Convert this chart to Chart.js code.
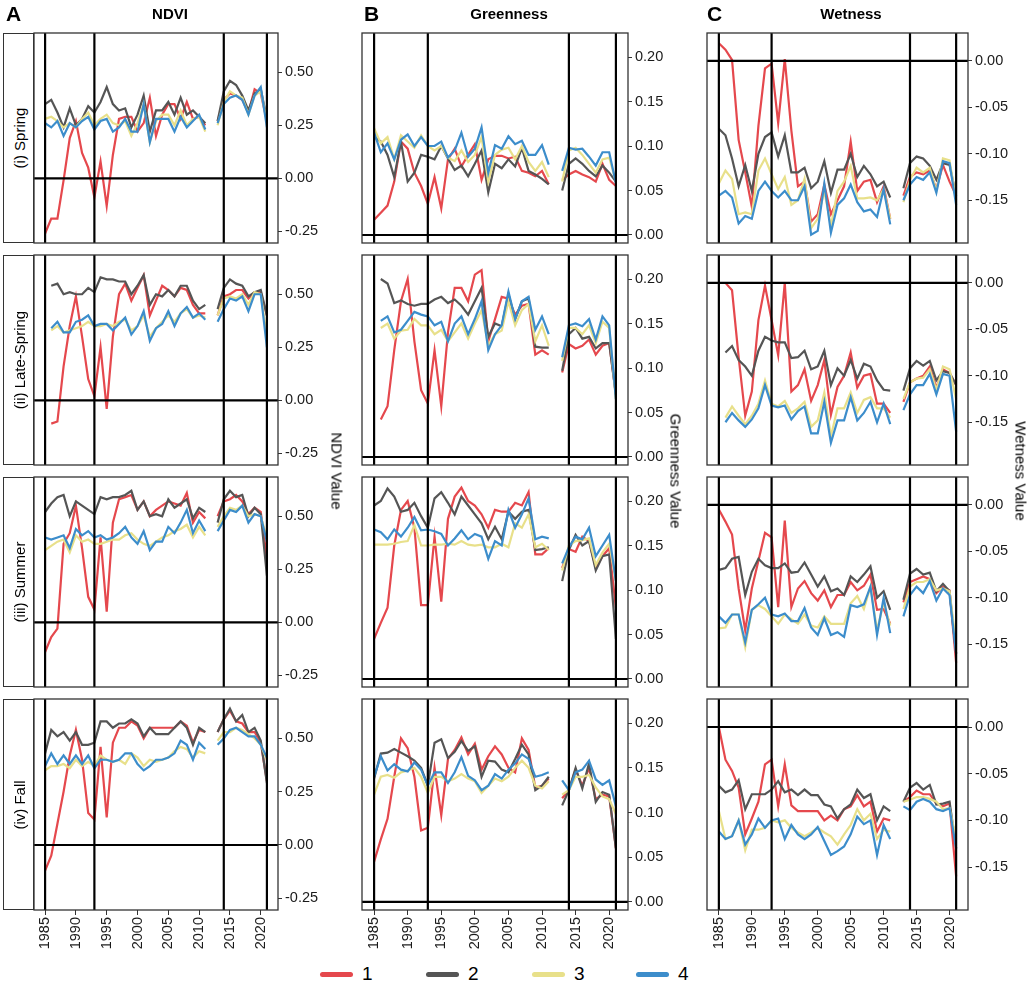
<!DOCTYPE html>
<html>
<head>
<meta charset="utf-8">
<script src="https://cdn.jsdelivr.net/npm/chart.js@4.4.0/dist/chart.umd.min.js"></script>
<style>
  body { margin: 0; background: #fff; font-family: "Liberation Sans", Arial, sans-serif; color: #000; }
  #fig { position: relative; width: 1031px; height: 992px; overflow: hidden; }
  #fig canvas { position: absolute; }
  .strip { position: absolute; border: 1.3px solid #333; box-sizing: border-box; }
  .strip span { position: absolute; left: 50%; top: 50%; transform: translate(-50%, -50%) rotate(-90deg); white-space: nowrap; font-size: 15px; }
  .panel-tag { position: absolute; font-weight: bold; font-size: 21px; }
  .col-title { position: absolute; font-weight: bold; font-size: 15px; transform: translateX(-50%); white-space: nowrap; }
  .axis-title { position: absolute; font-size: 15px; white-space: nowrap; transform: translate(-50%, -50%) rotate(90deg); }
  .legend-line { position: absolute; height: 5px; border-radius: 3px; }
  .legend-text { position: absolute; font-size: 19px; }
</style>
</head>
<body>
<div id="fig"></div>
<script>
// years on the x axis (2012 has no data)
const years = [1985, 1986, 1987, 1988, 1989, 1990, 1991, 1992, 1993, 1994, 1995, 1996, 1997,
  1998, 1999, 2000, 2001, 2002, 2003, 2004, 2005, 2006, 2007, 2008, 2009, 2010, 2011, 2012,
  2013, 2014, 2015, 2016, 2017, 2018, 2019, 2020, 2021];
const xTicks = [1985, 1990, 1995, 2000, 2005, 2010, 2015, 2020];
const eventYears = [1985, 1993, 2014, 2021];

const groupNames = ['1', '2', '3', '4'];
const groupColors = ['#E5484D', '#555555', '#E8E08A', '#3C8DCB'];

const rowNames = ['(i) Spring', '(ii) Late-Spring', '(iii) Summer', '(iv) Fall'];
const indexNames = ['NDVI', 'Greenness', 'Wetness'];
const indexTags = ['A', 'B', 'C'];
const axisTitles = ['NDVI Value', 'Greenness Value', 'Wetness Value'];

const ndviTicks = [-0.25, 0, 0.25, 0.5];
const greennessTicks = [0, 0.05, 0.1, 0.15, 0.2];
const wetnessTicks = [-0.15, -0.1, -0.05, 0];

// each panel: [group 1, group 2, group 3, group 4]
const ndviSpring = [
  [-0.26,-0.19,-0.19,-0.01,0.19,0.27,0.12,0.05,-0.09,0.08,-0.13,0.11,0.28,0.29,0.29,0.22,0.26,0.38,0.20,0.30,0.35,0.35,0.28,0.36,0.28,0.29,0.25,null,0.27,0.37,0.40,0.39,0.37,0.31,0.42,0.40,0.27],
  [0.35,0.37,0.31,0.24,0.33,0.25,0.28,0.34,0.31,0.36,0.43,0.35,0.32,0.33,0.24,0.30,0.39,0.22,0.32,0.32,0.36,0.30,0.38,0.30,0.32,0.29,0.26,null,0.27,0.41,0.46,0.44,0.39,0.32,0.40,0.42,0.28],
  [0.28,0.29,0.27,0.24,0.26,0.24,0.28,0.31,0.25,0.28,0.30,0.26,0.25,0.27,0.20,0.26,0.35,0.17,0.27,0.30,0.30,0.25,0.32,0.25,0.28,0.29,0.22,null,0.25,0.36,0.41,0.39,0.38,0.30,0.39,0.41,0.27],
  [0.26,0.24,0.27,0.20,0.26,0.24,0.27,0.29,0.23,0.27,0.28,0.22,0.24,0.28,0.22,0.22,0.35,0.17,0.28,0.28,0.28,0.22,0.29,0.24,0.27,0.30,0.23,null,0.26,0.35,0.38,0.39,0.37,0.30,0.39,0.43,0.24]
];
const ndviLateSpring = [
  [null,-0.11,-0.10,0.16,0.35,0.49,0.30,0.10,0.02,0.25,-0.04,0.30,0.50,0.55,0.47,0.53,0.59,0.40,0.47,0.54,0.52,0.49,0.53,0.52,0.45,0.41,0.41,null,0.40,0.49,0.50,0.52,0.52,0.48,0.51,0.51,0.40],
  [null,0.54,0.55,0.50,0.51,0.50,0.50,0.53,0.51,0.58,0.57,0.57,0.56,0.56,0.50,0.54,0.59,0.45,0.50,0.49,0.52,0.49,0.54,0.54,0.47,0.43,0.45,null,0.43,0.53,0.57,0.55,0.54,0.49,0.51,0.52,0.40],
  [null,0.33,0.35,0.32,0.33,0.34,0.35,0.37,0.35,0.35,0.36,0.35,0.37,0.38,0.33,0.35,0.40,0.30,0.34,0.37,0.40,0.37,0.41,0.43,0.39,0.40,0.39,null,0.40,0.48,0.49,0.48,0.50,0.45,0.51,0.50,0.30],
  [null,0.34,0.37,0.32,0.32,0.37,0.38,0.40,0.35,0.36,0.36,0.33,0.36,0.39,0.31,0.35,0.42,0.28,0.34,0.36,0.42,0.35,0.41,0.44,0.39,0.41,0.38,null,0.37,0.43,0.48,0.47,0.49,0.42,0.50,0.50,0.25]
];
const ndviSummer = [
  [-0.14,-0.07,-0.03,0.37,0.42,0.55,0.35,0.12,0.06,0.40,0.05,0.47,0.58,0.59,0.60,0.53,0.57,0.50,0.53,0.55,0.57,0.56,0.55,0.61,0.47,0.52,0.49,null,0.50,0.57,0.58,0.60,0.57,0.51,0.54,0.52,0.30],
  [0.52,0.56,0.59,0.60,0.50,0.57,0.55,0.53,0.51,0.59,0.58,0.59,0.59,0.60,0.62,0.53,0.57,0.50,0.51,0.50,0.58,0.54,0.56,0.58,0.49,0.54,0.52,null,0.47,0.58,0.62,0.59,0.60,0.50,0.54,0.51,0.22],
  [0.34,0.36,0.38,0.39,0.33,0.41,0.38,0.39,0.37,0.37,0.38,0.39,0.39,0.41,0.42,0.39,0.37,0.36,0.38,0.40,0.41,0.43,0.44,0.46,0.40,0.45,0.41,null,0.45,0.50,0.54,0.53,0.55,0.50,0.51,0.50,0.40],
  [0.40,0.39,0.40,0.41,0.35,0.44,0.41,0.43,0.40,0.41,0.39,0.40,0.42,0.45,0.40,0.37,0.43,0.34,0.38,0.38,0.45,0.42,0.47,0.53,0.42,0.48,0.43,null,0.43,0.48,0.53,0.52,0.55,0.47,0.51,0.50,0.38]
];
const ndviFall = [
  [-0.12,-0.05,0.10,0.25,0.42,0.54,0.40,0.15,0.12,0.46,0.13,0.48,0.55,0.55,0.58,0.56,0.50,0.55,0.55,0.55,0.55,0.55,0.58,0.56,0.48,0.54,0.53,null,0.53,0.59,0.63,0.58,0.57,0.53,0.53,0.48,0.30],
  [0.43,0.54,0.51,0.53,0.49,0.53,0.47,0.47,0.48,0.58,0.58,0.55,0.57,0.57,0.59,0.57,0.51,0.55,0.52,0.52,0.52,0.55,0.58,0.55,0.47,0.55,0.53,null,0.53,0.59,0.64,0.58,0.61,0.53,0.55,0.49,0.29],
  [0.35,0.37,0.37,0.38,0.36,0.40,0.37,0.39,0.37,0.42,0.40,0.39,0.40,0.38,0.43,0.41,0.37,0.40,0.39,0.40,0.41,0.44,0.46,0.45,0.41,0.44,0.43,null,0.49,0.53,0.53,0.55,0.54,0.52,0.50,0.47,0.40],
  [0.37,0.43,0.38,0.42,0.38,0.42,0.38,0.42,0.36,0.40,0.40,0.39,0.40,0.43,0.43,0.38,0.35,0.37,0.40,0.40,0.41,0.43,0.49,0.47,0.40,0.48,0.45,null,0.47,0.50,0.54,0.55,0.53,0.51,0.51,0.47,0.41]
];

const greenSpring = [
  [0.017,0.025,0.033,0.06,0.105,0.097,0.07,0.055,0.035,0.065,0.03,0.085,0.097,0.077,0.09,0.102,0.062,0.085,0.089,0.089,0.086,0.088,0.072,0.07,0.066,0.072,0.057,null,0.062,0.068,0.072,0.068,0.065,0.06,0.08,0.062,0.055],
  [0.11,0.105,0.09,0.065,0.105,0.06,0.07,0.09,0.088,0.085,0.10,0.086,0.073,0.078,0.066,0.08,0.095,0.048,0.08,0.075,0.085,0.077,0.098,0.072,0.068,0.063,0.057,null,0.05,0.08,0.086,0.08,0.072,0.066,0.078,0.07,0.06],
  [0.12,0.103,0.11,0.085,0.112,0.105,0.098,0.112,0.10,0.095,0.10,0.087,0.083,0.095,0.082,0.09,0.11,0.06,0.09,0.096,0.098,0.085,0.10,0.082,0.072,0.082,0.065,null,0.06,0.095,0.098,0.09,0.08,0.07,0.085,0.087,0.06],
  [0.115,0.093,0.103,0.085,0.107,0.113,0.10,0.11,0.10,0.10,0.105,0.087,0.095,0.115,0.088,0.097,0.121,0.07,0.101,0.097,0.111,0.102,0.106,0.09,0.09,0.101,0.079,null,0.072,0.098,0.096,0.097,0.088,0.078,0.093,0.093,0.058]
];
const greenLateSpring = [
  [null,0.042,0.057,0.12,0.175,0.20,0.13,0.075,0.06,0.12,0.057,0.14,0.19,0.19,0.175,0.205,0.21,0.13,0.155,0.18,0.178,0.16,0.17,0.172,0.115,0.12,0.115,null,0.095,0.127,0.122,0.125,0.132,0.115,0.125,0.128,0.07],
  [null,0.20,0.195,0.173,0.176,0.172,0.17,0.172,0.172,0.177,0.18,0.173,0.177,0.17,0.16,0.175,0.19,0.135,0.15,0.147,0.183,0.155,0.175,0.178,0.124,0.123,0.123,null,0.097,0.138,0.145,0.133,0.135,0.122,0.128,0.128,0.07],
  [null,0.145,0.15,0.133,0.142,0.143,0.155,0.148,0.148,0.138,0.143,0.13,0.14,0.15,0.133,0.15,0.165,0.125,0.138,0.142,0.175,0.148,0.165,0.172,0.13,0.148,0.125,null,0.108,0.145,0.145,0.138,0.148,0.128,0.152,0.145,0.065],
  [null,0.153,0.158,0.14,0.143,0.153,0.163,0.16,0.158,0.148,0.152,0.13,0.15,0.158,0.138,0.155,0.175,0.12,0.138,0.148,0.186,0.155,0.175,0.18,0.143,0.158,0.138,null,0.112,0.148,0.15,0.147,0.155,0.132,0.158,0.148,0.065]
];
const greenSummer = [
  [0.045,0.063,0.08,0.15,0.19,0.20,0.17,0.083,0.083,0.16,0.087,0.18,0.205,0.215,0.20,0.195,0.185,0.17,0.19,0.188,0.188,0.198,0.195,0.21,0.14,0.14,0.147,null,0.125,0.146,0.143,0.16,0.155,0.125,0.138,0.147,0.08],
  [0.195,0.20,0.214,0.205,0.188,0.19,0.198,0.183,0.17,0.203,0.21,0.198,0.185,0.205,0.195,0.185,0.175,0.157,0.171,0.157,0.188,0.18,0.188,0.19,0.145,0.146,0.148,null,0.11,0.145,0.162,0.15,0.155,0.122,0.138,0.14,0.045],
  [0.151,0.151,0.151,0.152,0.154,0.155,0.173,0.15,0.15,0.151,0.151,0.152,0.151,0.155,0.151,0.15,0.151,0.148,0.148,0.152,0.148,0.175,0.17,0.185,0.148,0.152,0.145,null,0.122,0.15,0.155,0.156,0.158,0.128,0.142,0.152,0.11],
  [0.168,0.165,0.157,0.168,0.16,0.17,0.182,0.167,0.168,0.166,0.163,0.15,0.158,0.167,0.157,0.163,0.16,0.135,0.155,0.15,0.19,0.17,0.185,0.203,0.157,0.16,0.158,null,0.13,0.148,0.16,0.157,0.17,0.138,0.15,0.162,0.11]
];
const greenFall = [
  [0.045,0.07,0.093,0.14,0.183,0.172,0.14,0.08,0.083,0.15,0.097,0.16,0.17,0.184,0.165,0.177,0.148,0.163,0.174,0.165,0.15,0.145,0.183,0.17,0.128,0.13,0.138,null,0.116,0.125,0.148,0.13,0.15,0.115,0.12,0.118,0.06],
  [0.138,0.166,0.167,0.171,0.167,0.163,0.158,0.15,0.13,0.178,0.182,0.161,0.168,0.18,0.169,0.174,0.14,0.158,0.157,0.148,0.145,0.16,0.176,0.165,0.125,0.13,0.14,null,0.108,0.125,0.15,0.127,0.155,0.112,0.123,0.12,0.06],
  [0.12,0.14,0.142,0.139,0.145,0.147,0.15,0.14,0.122,0.14,0.14,0.135,0.138,0.143,0.138,0.135,0.122,0.13,0.138,0.135,0.14,0.15,0.158,0.15,0.13,0.127,0.135,null,0.12,0.125,0.14,0.14,0.142,0.128,0.118,0.115,0.098],
  [0.14,0.163,0.147,0.154,0.148,0.146,0.156,0.148,0.13,0.145,0.145,0.133,0.145,0.162,0.141,0.136,0.125,0.13,0.143,0.138,0.148,0.155,0.165,0.16,0.14,0.142,0.145,null,0.136,0.125,0.145,0.148,0.158,0.137,0.131,0.136,0.107]
];

const wetSpring = [
  [0.019,0.012,0.001,-0.085,-0.12,-0.157,-0.07,-0.008,-0.003,-0.067,0.002,-0.075,-0.135,-0.13,-0.173,-0.165,-0.133,-0.165,-0.15,-0.135,-0.087,-0.14,-0.13,-0.128,-0.152,-0.135,-0.17,null,-0.145,-0.125,-0.12,-0.122,-0.118,-0.138,-0.112,-0.13,-0.145],
  [-0.073,-0.08,-0.105,-0.135,-0.112,-0.14,-0.1,-0.082,-0.077,-0.103,-0.08,-0.12,-0.12,-0.115,-0.137,-0.13,-0.108,-0.142,-0.117,-0.117,-0.1,-0.125,-0.113,-0.122,-0.135,-0.13,-0.147,null,-0.137,-0.11,-0.103,-0.105,-0.113,-0.128,-0.11,-0.112,-0.145],
  [-0.132,-0.118,-0.127,-0.165,-0.163,-0.165,-0.118,-0.105,-0.122,-0.138,-0.125,-0.155,-0.15,-0.127,-0.18,-0.17,-0.14,-0.178,-0.14,-0.13,-0.113,-0.148,-0.148,-0.147,-0.15,-0.138,-0.17,null,-0.152,-0.128,-0.115,-0.12,-0.115,-0.14,-0.105,-0.107,-0.15],
  [-0.145,-0.14,-0.147,-0.175,-0.167,-0.17,-0.14,-0.13,-0.14,-0.147,-0.14,-0.15,-0.15,-0.135,-0.187,-0.183,-0.132,-0.185,-0.155,-0.148,-0.133,-0.152,-0.162,-0.16,-0.168,-0.138,-0.176,null,-0.15,-0.133,-0.125,-0.128,-0.12,-0.142,-0.108,-0.11,-0.155]
];
const wetLateSpring = [
  [null,0.0,-0.008,-0.08,-0.143,-0.117,-0.04,-0.003,-0.04,-0.078,0.0,-0.117,-0.11,-0.093,-0.127,-0.11,-0.083,-0.142,-0.112,-0.1,-0.075,-0.113,-0.1,-0.098,-0.13,-0.13,-0.14,null,-0.128,-0.107,-0.103,-0.1,-0.09,-0.113,-0.093,-0.097,-0.11],
  [null,-0.075,-0.068,-0.083,-0.09,-0.1,-0.073,-0.058,-0.062,-0.064,-0.064,-0.081,-0.08,-0.073,-0.093,-0.09,-0.073,-0.11,-0.092,-0.1,-0.083,-0.103,-0.087,-0.09,-0.105,-0.115,-0.116,null,-0.116,-0.092,-0.084,-0.089,-0.084,-0.105,-0.095,-0.097,-0.11],
  [null,-0.145,-0.133,-0.143,-0.152,-0.143,-0.13,-0.105,-0.13,-0.133,-0.127,-0.14,-0.135,-0.128,-0.155,-0.148,-0.118,-0.165,-0.135,-0.135,-0.118,-0.14,-0.126,-0.123,-0.135,-0.135,-0.145,null,-0.125,-0.107,-0.103,-0.102,-0.093,-0.115,-0.09,-0.093,-0.125],
  [null,-0.15,-0.14,-0.148,-0.155,-0.147,-0.135,-0.11,-0.132,-0.134,-0.132,-0.147,-0.138,-0.133,-0.162,-0.162,-0.128,-0.172,-0.148,-0.148,-0.123,-0.148,-0.14,-0.128,-0.15,-0.13,-0.152,null,-0.137,-0.12,-0.11,-0.11,-0.098,-0.12,-0.098,-0.1,-0.16]
];
const wetSummer = [
  [-0.005,-0.018,-0.032,-0.09,-0.135,-0.09,-0.06,-0.03,-0.035,-0.11,-0.017,-0.11,-0.09,-0.082,-0.095,-0.103,-0.092,-0.11,-0.097,-0.097,-0.083,-0.092,-0.087,-0.075,-0.113,-0.112,-0.128,null,-0.105,-0.083,-0.08,-0.077,-0.08,-0.095,-0.088,-0.092,-0.17],
  [-0.07,-0.068,-0.058,-0.056,-0.097,-0.072,-0.058,-0.065,-0.068,-0.068,-0.063,-0.073,-0.072,-0.062,-0.075,-0.088,-0.077,-0.093,-0.09,-0.097,-0.077,-0.083,-0.075,-0.066,-0.1,-0.093,-0.113,null,-0.102,-0.074,-0.069,-0.075,-0.073,-0.093,-0.085,-0.093,-0.16],
  [-0.133,-0.132,-0.118,-0.118,-0.153,-0.113,-0.108,-0.112,-0.12,-0.128,-0.118,-0.123,-0.128,-0.118,-0.13,-0.132,-0.12,-0.128,-0.128,-0.128,-0.106,-0.098,-0.112,-0.088,-0.135,-0.105,-0.13,null,-0.112,-0.088,-0.083,-0.083,-0.08,-0.092,-0.09,-0.093,-0.15],
  [-0.12,-0.127,-0.118,-0.118,-0.148,-0.113,-0.107,-0.1,-0.118,-0.12,-0.117,-0.125,-0.125,-0.111,-0.132,-0.14,-0.122,-0.14,-0.137,-0.142,-0.108,-0.11,-0.107,-0.088,-0.14,-0.1,-0.138,null,-0.12,-0.097,-0.088,-0.095,-0.082,-0.103,-0.09,-0.097,-0.16]
];
const wetFall = [
  [0.0,-0.035,-0.047,-0.065,-0.115,-0.098,-0.08,-0.04,-0.035,-0.085,-0.04,-0.084,-0.09,-0.09,-0.09,-0.09,-0.1,-0.095,-0.1,-0.088,-0.085,-0.073,-0.085,-0.08,-0.112,-0.098,-0.1,null,-0.08,-0.075,-0.068,-0.072,-0.072,-0.082,-0.085,-0.082,-0.16],
  [-0.063,-0.07,-0.067,-0.057,-0.088,-0.072,-0.072,-0.072,-0.067,-0.058,-0.07,-0.067,-0.073,-0.067,-0.073,-0.073,-0.083,-0.085,-0.098,-0.088,-0.083,-0.067,-0.076,-0.072,-0.1,-0.085,-0.09,null,-0.08,-0.065,-0.06,-0.067,-0.062,-0.083,-0.082,-0.08,-0.13],
  [-0.09,-0.12,-0.117,-0.1,-0.132,-0.11,-0.11,-0.108,-0.1,-0.102,-0.1,-0.108,-0.113,-0.117,-0.113,-0.108,-0.113,-0.117,-0.126,-0.115,-0.105,-0.088,-0.1,-0.093,-0.12,-0.11,-0.112,null,-0.08,-0.078,-0.075,-0.075,-0.077,-0.08,-0.088,-0.087,-0.12],
  [-0.112,-0.12,-0.117,-0.1,-0.126,-0.115,-0.098,-0.108,-0.1,-0.098,-0.12,-0.105,-0.115,-0.12,-0.115,-0.107,-0.122,-0.137,-0.133,-0.128,-0.115,-0.096,-0.104,-0.1,-0.137,-0.105,-0.12,null,-0.085,-0.089,-0.08,-0.077,-0.08,-0.088,-0.09,-0.087,-0.13]
];

const panelRows = [
  [ndviSpring, greenSpring, wetSpring],
  [ndviLateSpring, greenLateSpring, wetLateSpring],
  [ndviSummer, greenSummer, wetSummer],
  [ndviFall, greenFall, wetFall]
];
const colTicks = [ndviTicks, greennessTicks, wetnessTicks];

// layout (pixels)
const colLeft = [34, 362, 707];
const colRight = [278, 628, 968];
const colMin = [-0.305, -0.009, -0.196];
const colMax = [0.685, 0.227, 0.030];
const rowTop = [33, 255, 477, 699];
const rowHeight = [210, 210, 210, 211];
const MARGIN = 14;
const Y_AXIS_W = 50;
const X_AXIS_H = 50;

Chart.defaults.font.family = '"Liberation Sans", Arial, sans-serif';
Chart.defaults.font.size = 14.5;
Chart.defaults.color = '#1a1a1a';

const fig = document.getElementById('fig');

const panelLines = {
    id: 'panelLines',
    afterDatasetsDraw(chart) {
        const ctx = chart.ctx;
        const a = chart.chartArea;
        const x = chart.scales.x;
        const y = chart.scales.y;
        ctx.save();
        ctx.beginPath();
        ctx.rect(a.left, a.top, a.right - a.left, a.bottom - a.top);
        ctx.clip();
        ctx.strokeStyle = '#000';
        ctx.lineWidth = 2.2;
        eventYears.forEach(function (yr) {
            const px = x.getPixelForValue(yr);
            ctx.beginPath();
            ctx.moveTo(px, a.top);
            ctx.lineTo(px, a.bottom);
            ctx.stroke();
        });
        const py = y.getPixelForValue(0);
        ctx.beginPath();
        ctx.moveTo(a.left, py);
        ctx.lineTo(a.right, py);
        ctx.stroke();
        ctx.restore();
        ctx.save();
        ctx.strokeStyle = '#333';
        ctx.lineWidth = 1.3;
        ctx.strokeRect(a.left, a.top, a.right - a.left, a.bottom - a.top);
        ctx.restore();
    }
};

function makePanel(r, c) {
    const bottomRow = r === rowTop.length - 1;
    const plotW = colRight[c] - colLeft[c];
    const plotH = rowHeight[r];
    const w = MARGIN + plotW + Y_AXIS_W;
    const h = MARGIN + plotH + (bottomRow ? X_AXIS_H : MARGIN);

    const canvas = document.createElement('canvas');
    canvas.width = w;
    canvas.height = h;
    canvas.style.width = w + 'px';
    canvas.style.height = h + 'px';
    canvas.style.left = (colLeft[c] - MARGIN) + 'px';
    canvas.style.top = (rowTop[r] - MARGIN) + 'px';
    fig.appendChild(canvas);

    const series = panelRows[r][c];
    const datasets = series.map(function (vals, g) {
        return {
            label: groupNames[g],
            data: years.map(function (yr, i) { return { x: yr, y: vals[i] }; }),
            borderColor: groupColors[g],
            borderWidth: 2.2,
            pointRadius: 0,
            tension: 0,
            spanGaps: false,
            order: series.length - g
        };
    });

    new Chart(canvas.getContext('2d'), {
        type: 'line',
        data: { datasets: datasets },
        options: {
            responsive: false,
            animation: false,
            events: [],
            layout: { padding: { left: MARGIN, top: MARGIN, right: 0, bottom: bottomRow ? 0 : MARGIN } },
            plugins: { legend: { display: false }, tooltip: { enabled: false } },
            scales: {
                x: {
                    type: 'linear',
                    min: 1983.2,
                    max: 2022.8,
                    display: bottomRow,
                    afterBuildTicks: function (s) { s.ticks = xTicks.map(function (v) { return { value: v }; }); },
                    afterFit: function (s) { s.height = bottomRow ? X_AXIS_H : 0; },
                    ticks: {
                        minRotation: 90,
                        maxRotation: 90,
                        padding: 2,
                        color: '#1a1a1a',
                        callback: function (v) { return String(v); }
                    },
                    grid: { drawOnChartArea: false, drawTicks: true, tickLength: 5, color: '#333', lineWidth: 1 },
                    border: { display: false }
                },
                y: {
                    type: 'linear',
                    position: 'right',
                    min: colMin[c],
                    max: colMax[c],
                    afterBuildTicks: function (s) { s.ticks = colTicks[c].map(function (v) { return { value: v }; }); },
                    afterFit: function (s) { s.width = Y_AXIS_W; },
                    ticks: {
                        padding: 3,
                        color: '#1a1a1a',
                        callback: function (v) { return Number(v).toFixed(2); }
                    },
                    grid: { drawOnChartArea: false, drawTicks: true, tickLength: 4, color: '#333', lineWidth: 1 },
                    border: { display: false }
                }
            }
        },
        plugins: [panelLines]
    });
}

for (let r = 0; r < rowTop.length; r++) {
    // row strip on the left of column A
    const strip = document.createElement('div');
    strip.className = 'strip';
    strip.style.left = '3px';
    strip.style.top = rowTop[r] + 'px';
    strip.style.width = (colLeft[0] - 3) + 'px';
    strip.style.height = rowHeight[r] + 'px';
    strip.innerHTML = '<span>' + rowNames[r] + '</span>';
    fig.appendChild(strip);
    for (let c = 0; c < colLeft.length; c++) {
        makePanel(r, c);
    }
}

// column tags and titles
const tagLeft = [6, 364, 707];
const titleCenter = [170, 509, 851];
const axisTitleX = [337, 676, 1021];
for (let c = 0; c < indexNames.length; c++) {
    const tag = document.createElement('div');
    tag.className = 'panel-tag';
    tag.style.left = tagLeft[c] + 'px';
    tag.style.top = '2px';
    tag.textContent = indexTags[c];
    fig.appendChild(tag);

    const title = document.createElement('div');
    title.className = 'col-title';
    title.style.left = titleCenter[c] + 'px';
    title.style.top = '5px';
    title.textContent = indexNames[c];
    fig.appendChild(title);

    const at = document.createElement('div');
    at.className = 'axis-title';
    at.style.left = axisTitleX[c] + 'px';
    at.style.top = '471px';
    at.textContent = axisTitles[c];
    fig.appendChild(at);
}

// legend
const legendLineLeft = [320, 426, 532, 636];
groupNames.forEach(function (name, g) {
    const line = document.createElement('div');
    line.className = 'legend-line';
    line.style.left = legendLineLeft[g] + 'px';
    line.style.top = '972px';
    line.style.width = '33px';
    line.style.background = groupColors[g];
    fig.appendChild(line);

    const txt = document.createElement('div');
    txt.className = 'legend-text';
    txt.style.left = (legendLineLeft[g] + 42) + 'px';
    txt.style.top = '963px';
    txt.textContent = name;
    fig.appendChild(txt);
});
</script>
</body>
</html>
